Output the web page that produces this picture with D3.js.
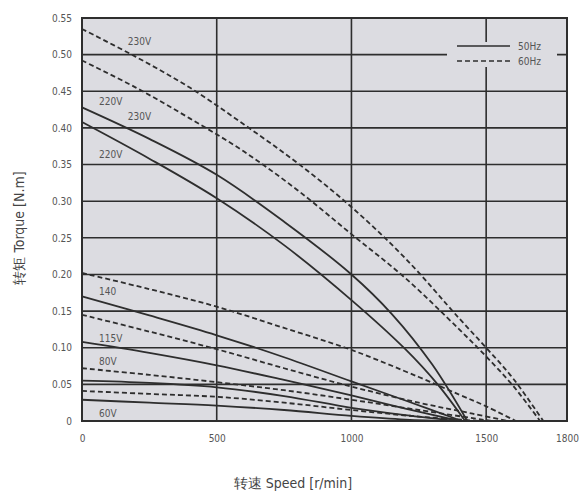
<!DOCTYPE html>
<html>
<head>
<meta charset="utf-8">
<script src="https://cdn.jsdelivr.net/npm/d3@7"></script>
<style>
  body { margin: 0; background: #fff; }
  text { font-family: "Liberation Sans Narrow", "DejaVu Sans Condensed", "DejaVu Sans", sans-serif; font-stretch: condensed; }
</style>
</head>
<body>
<svg id="chart" width="583" height="495"></svg>
<script>
// speed [r/min], torque [N.m]
var speeds230v60 = [0, 200, 400, 600, 800, 1000, 1200, 1400, 1500, 1600, 1712];
var torque230v60 = [0.535, 0.497, 0.455, 0.405, 0.352, 0.292, 0.222, 0.14, 0.10, 0.058, 0];
var speeds220v60 = [0, 200, 400, 600, 800, 1000, 1200, 1400, 1500, 1600, 1700];
var torque220v60 = [0.492, 0.455, 0.413, 0.368, 0.315, 0.255, 0.195, 0.125, 0.088, 0.048, 0];
var speeds230v50 = [0, 250, 500, 750, 1000, 1150, 1300, 1430];
var torque230v50 = [0.428, 0.385, 0.336, 0.272, 0.20, 0.146, 0.077, 0];
var speeds220v50 = [0, 250, 500, 750, 1000, 1200, 1320, 1422];
var torque220v50 = [0.408, 0.358, 0.304, 0.24, 0.165, 0.098, 0.05, 0];

var speeds140v60 = [0, 250, 500, 750, 1000, 1250, 1400, 1500, 1610];
var torque140v60 = [0.202, 0.18, 0.156, 0.127, 0.097, 0.06, 0.036, 0.02, 0];
var speeds140v50 = [0, 250, 500, 750, 1000, 1200, 1410];
var torque140v50 = [0.17, 0.144, 0.117, 0.087, 0.054, 0.028, 0];
var speeds115v60 = [0, 250, 500, 750, 1000, 1250, 1450, 1580];
var torque115v60 = [0.145, 0.122, 0.098, 0.072, 0.047, 0.025, 0.01, 0];
var speeds115v50 = [0, 250, 500, 750, 1000, 1200, 1400];
var torque115v50 = [0.108, 0.093, 0.076, 0.056, 0.035, 0.017, 0];
var speeds80v60 = [0, 250, 500, 750, 1000, 1250, 1520];
var torque80v60 = [0.072, 0.063, 0.053, 0.042, 0.029, 0.015, 0];
var speeds80v50 = [0, 250, 500, 750, 1000, 1200, 1390];
var torque80v50 = [0.055, 0.052, 0.046, 0.034, 0.018, 0.008, 0];
var speeds60v60 = [0, 250, 500, 750, 1000, 1250, 1480];
var torque60v60 = [0.041, 0.037, 0.033, 0.025, 0.015, 0.006, 0];
var speeds60v50 = [0, 250, 500, 750, 1000, 1200, 1380];
var torque60v50 = [0.029, 0.025, 0.021, 0.015, 0.007, 0.002, 0];

var curveLabels = ["230V", "220V", "230V", "220V", "140", "115V", "80V", "60V"];
var labelSpeed = [170, 63, 170, 63, 63, 63, 63, 63];
var labelTorque = [0.513, 0.431, 0.411, 0.359, 0.172, 0.108, 0.076, 0.0055];

var xTicks = [0, 500, 1000, 1500, 1800];
var yTicks = [0, 0.05, 0.10, 0.15, 0.20, 0.25, 0.30, 0.35, 0.40, 0.45, 0.50, 0.55];
var legendLabels = ["50Hz", "60Hz"];

var svg = d3.select("#chart");
var plotL = 82, plotT = 18, plotR = 567, plotB = 421;
var ink = "#2e2e2e";
var font = "'Liberation Sans Narrow', 'DejaVu Sans Condensed', 'DejaVu Sans', sans-serif";

var x = d3.scaleLinear().domain([0, 1800]).range([plotL, plotR]);
var y = d3.scaleLinear().domain([0, 0.55]).range([plotB, plotT]);

svg.append("rect")
  .attr("x", plotL).attr("y", plotT)
  .attr("width", plotR - plotL).attr("height", plotB - plotT)
  .attr("fill", "#dcdce1");

// grid
svg.append("g").selectAll("line").data(yTicks).enter().append("line")
  .attr("x1", plotL).attr("x2", plotR)
  .attr("y1", function(d) { return y(d); }).attr("y2", function(d) { return y(d); })
  .attr("stroke", ink).attr("stroke-width", 1.6);
svg.append("g").selectAll("line").data([500, 1000, 1500]).enter().append("line")
  .attr("y1", plotT).attr("y2", plotB)
  .attr("x1", function(d) { return x(d); }).attr("x2", function(d) { return x(d); })
  .attr("stroke", ink).attr("stroke-width", 1.6);

// legend patch over the grid
svg.append("rect")
  .attr("x", 447).attr("y", 42).attr("width", 110).attr("height", 25)
  .attr("fill", "#dcdce1");

svg.append("rect")
  .attr("x", plotL).attr("y", plotT)
  .attr("width", plotR - plotL).attr("height", plotB - plotT)
  .attr("fill", "none").attr("stroke", ink).attr("stroke-width", 2);

// axes
var xAxis = svg.append("g")
  .attr("transform", "translate(0," + plotB + ")")
  .call(d3.axisBottom(x).tickValues(xTicks).tickSize(0).tickPadding(14).tickFormat(d3.format("d")));
var yAxis = svg.append("g")
  .attr("transform", "translate(" + plotL + ",0)")
  .call(d3.axisLeft(y).tickValues(yTicks).tickSize(0).tickPadding(10)
    .tickFormat(function(d) { return d === 0 ? "0" : d3.format(".2f")(d); }));
[xAxis, yAxis].forEach(function(a) {
  a.select(".domain").remove();
  a.selectAll("text").attr("fill", "#555").style("font-size", "10px")
    .style("font-family", font).style("font-stretch", "condensed");
});

// curves
var line = d3.line()
  .x(function(d) { return x(d[0]); })
  .y(function(d) { return y(d[1]); })
  .curve(d3.curveCatmullRom.alpha(0.5));

var series = [
  [speeds230v60, torque230v60, true], [speeds220v60, torque220v60, true],
  [speeds230v50, torque230v50, false], [speeds220v50, torque220v50, false],
  [speeds140v60, torque140v60, true], [speeds140v50, torque140v50, false],
  [speeds115v60, torque115v60, true], [speeds115v50, torque115v50, false],
  [speeds80v60, torque80v60, true], [speeds80v50, torque80v50, false],
  [speeds60v60, torque60v60, true], [speeds60v50, torque60v50, false]
];

svg.append("g").selectAll("path").data(series).enter().append("path")
  .attr("d", function(s) { return line(d3.zip(s[0], s[1])); })
  .attr("fill", "none")
  .attr("stroke", ink)
  .attr("stroke-width", 1.8)
  .attr("stroke-dasharray", function(s) { return s[2] ? "5,3" : null; });

svg.append("g").selectAll("text").data(curveLabels).enter().append("text")
  .attr("x", function(d, i) { return x(labelSpeed[i]); })
  .attr("y", function(d, i) { return y(labelTorque[i]); })
  .attr("fill", "#555").style("font-size", "10px")
  .text(function(d) { return d; });

// legend
var lg = svg.append("g").selectAll("g").data(legendLabels).enter().append("g")
  .attr("transform", function(d, i) { return "translate(457," + (46 + i * 15) + ")"; });
lg.append("line")
  .attr("x1", 0).attr("x2", 53)
  .attr("stroke", ink).attr("stroke-width", 1.6)
  .attr("stroke-dasharray", function(d, i) { return i ? "5,3" : null; });
lg.append("text")
  .attr("x", 61).attr("y", 4)
  .attr("fill", "#555").style("font-size", "10px")
  .text(function(d) { return d; });

// axis titles
svg.append("text")
  .attr("x", 293).attr("y", 488)
  .attr("text-anchor", "middle")
  .attr("fill", "#444").style("font-size", "14px")
  .text("转速 Speed [r/min]");
svg.append("text")
  .attr("transform", "translate(24,228) rotate(-90)")
  .attr("text-anchor", "middle")
  .attr("fill", "#444").style("font-size", "14px")
  .text("转矩 Torque [N.m]");
</script>
</body>
</html>
